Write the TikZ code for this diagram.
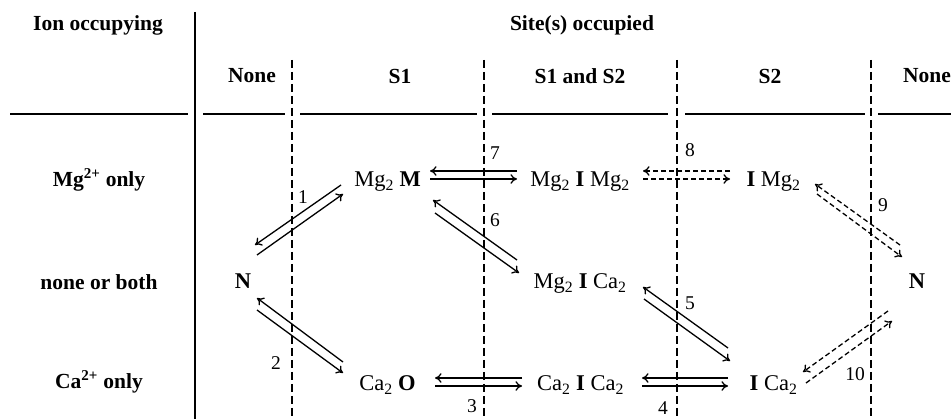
\documentclass[tikz,border=0pt]{standalone}
\usepackage{fontspec}
\setmainfont{Liberation Serif}
\usetikzlibrary{arrows.meta}
\begin{document}
\begin{tikzpicture}[x=1pt,y=-1pt,
  every node/.style={font=\fontsize{21}{25}\selectfont, inner sep=0pt},
  hdr/.style={font=\fontsize{21.5}{25}\selectfont\bfseries},
  num/.style={font=\fontsize{19.5}{22}\selectfont},
  st/.style={anchor=base, font=\fontsize{22.5}{26}\selectfont},
  gridline/.style={line width=1.4pt},
  sepline/.style={line width=1.3pt, dash pattern=on 8pt off 4pt},
  arr/.style={line width=1.3pt, -{To[length=6.5pt,width=9.5pt]}},
  darr/.style={arr, dash pattern=on 5pt off 3pt},
]
\useasboundingbox (0,0) rectangle (951,419);
% table frame
\draw[gridline] (195,12) -- (195,419);
\foreach \a/\b in {10/188,203/285,300/477,492/668,685/865,878/951}
  \draw[gridline] (\a,114) -- (\b,114);
\foreach \x in {292,484,677,871}
  \draw[sepline] (\x,60) -- (\x,419);
% headers
\node[hdr] (hion) at (98,25) {Ion occupying};
\node[hdr] (hsite) at (582,25) {Site(s) occupied};
\node[hdr] (hn1) at (252,76) {None};
\node[hdr] (hs1) at (400,76) {S1};
\node[hdr] (hs12) at (580,76) {S1 and S2};
\node[hdr] (hs2) at (770,76) {S2};
\node[hdr] (hn2) at (927,76) {None};
\node[hdr] (rmg) at (99,180) {Mg\textsuperscript{2+} only};
\node[hdr] (rnb) at (99,282) {none or both};
\node[hdr] (rca) at (99,382) {Ca\textsuperscript{2+} only};
% states
\node[st] (MgM) at (387.5,187) {Mg\textsubscript{2} \textbf{M}};
\node[st] (MgIMg) at (580,187) {Mg\textsubscript{2} \textbf{I} Mg\textsubscript{2}};
\node[st] (IMg) at (773.5,187) {\textbf{I} Mg\textsubscript{2}};
\node[st] (N1) at (243,289) {\textbf{N}};
\node[st] (MgICa) at (580,289) {Mg\textsubscript{2} \textbf{I} Ca\textsubscript{2}};
\node[st] (N2) at (917,289) {\textbf{N}};
\node[st] (CaO) at (387.5,391) {Ca\textsubscript{2} \textbf{O}};
\node[st] (CaICa) at (580.5,391) {Ca\textsubscript{2} \textbf{I} Ca\textsubscript{2}};
\node[st] (ICa) at (773.5,391) {\textbf{I} Ca\textsubscript{2}};
% transitions
\draw[arr] ([shift={(-46.5,-2)}]MgM.base) -- ([shift={(12,-44)}]N1.base);
\draw[arr] ([shift={(14,-34)}]N1.base) -- ([shift={(-44.5,7)}]MgM.base);
\draw[arr] ([shift={(-44.5,-29)}]CaO.base) -- ([shift={(14,9)}]N1.base);
\draw[arr] ([shift={(14,21)}]N1.base) -- ([shift={(-44.5,-18)}]CaO.base);
\draw[arr] ([shift={(-58.5,-13)}]CaICa.base) -- ([shift={(47.5,-13)}]CaO.base);
\draw[arr] ([shift={(47.5,-5)}]CaO.base) -- ([shift={(-58.5,-5)}]CaICa.base);
\draw[arr] ([shift={(-45.5,-13)}]ICa.base) -- ([shift={(61.5,-13)}]CaICa.base);
\draw[arr] ([shift={(61.5,-5)}]CaICa.base) -- ([shift={(-45.5,-5)}]ICa.base);
\draw[arr] ([shift={(-45.5,-43)}]ICa.base) -- ([shift={(63,-2)}]MgICa.base);
\draw[arr] ([shift={(64,10)}]MgICa.base) -- ([shift={(-43.5,-30)}]ICa.base);
\draw[arr] ([shift={(-63,-29)}]MgICa.base) -- ([shift={(45.5,13)}]MgM.base);
\draw[arr] ([shift={(47.5,26)}]MgM.base) -- ([shift={(-61,-16)}]MgICa.base);
\draw[arr] ([shift={(-63,-16)}]MgIMg.base) -- ([shift={(42.5,-16)}]MgM.base);
\draw[arr] ([shift={(42.5,-8)}]MgM.base) -- ([shift={(-63,-8)}]MgIMg.base);
\draw[darr] ([shift={(-43.5,-16)}]IMg.base) -- ([shift={(63,-16)}]MgIMg.base);
\draw[darr] ([shift={(63,-8)}]MgIMg.base) -- ([shift={(-43.5,-8)}]IMg.base);
\draw[darr] ([shift={(-17,-44)}]N2.base) -- ([shift={(41.5,-3)}]IMg.base);
\draw[darr] ([shift={(43.5,7)}]IMg.base) -- ([shift={(-15,-32)}]N2.base);
\draw[darr] ([shift={(-29,22)}]N2.base) -- ([shift={(29.5,-19)}]ICa.base);
\draw[darr] ([shift={(32.5,-8)}]ICa.base) -- ([shift={(-25,32)}]N2.base);
% labels
\node[num] (l1) at (303,197) {1};
\node[num] (l2) at (276,363) {2};
\node[num] (l3) at (472,406) {3};
\node[num] (l4) at (663,408) {4};
\node[num] (l5) at (690,303) {5};
\node[num] (l6) at (495,220) {6};
\node[num] (l7) at (495,153) {7};
\node[num] (l8) at (690,150) {8};
\node[num] (l9) at (883,205) {9};
\node[num] (l10) at (855,374) {10};
\end{tikzpicture}
\end{document}
